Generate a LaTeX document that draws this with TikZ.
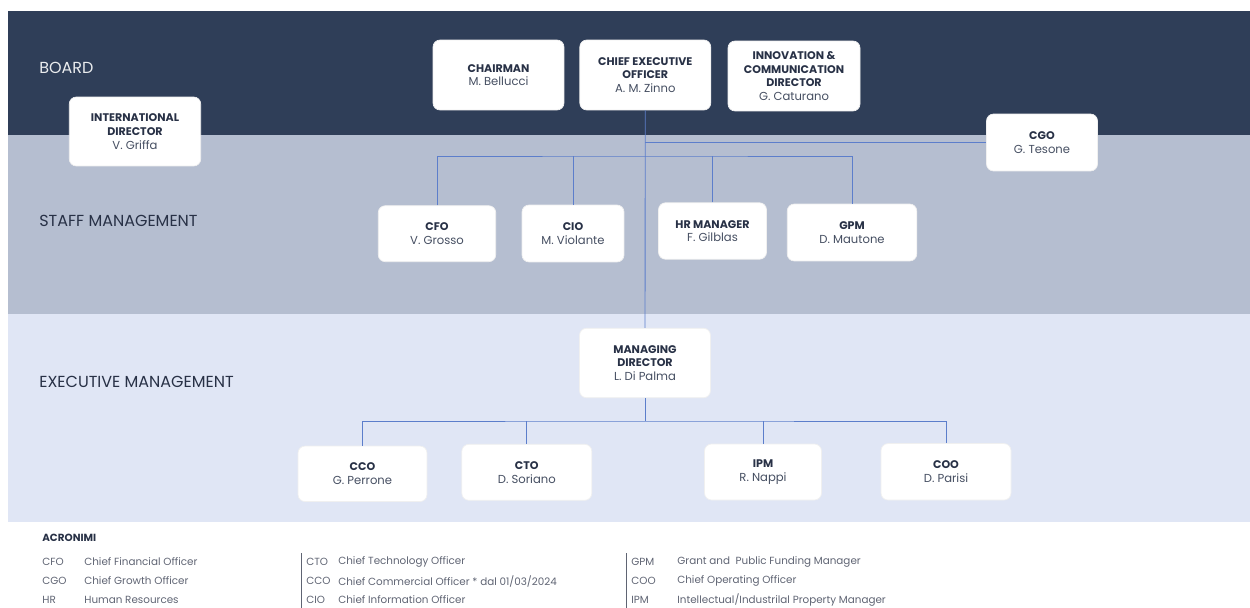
\documentclass[tikz,border=0pt]{standalone}
\usepackage{fontspec}
\setmainfont{Poppins}
\definecolor{boardblue}{RGB}{47,62,88}
\definecolor{staffgray}{RGB}{181,190,208}
\definecolor{execblue}{RGB}{224,230,245}
\definecolor{linkblue}{RGB}{92,126,203}
\definecolor{titlenavy}{RGB}{40,49,70}
\definecolor{namegray}{RGB}{70,79,98}
\definecolor{acrogray}{RGB}{95,100,115}
\begin{document}
\begin{tikzpicture}[x=0.02cm,y=-0.02cm]
\tikzstyle{box}=[rectangle,rounded corners=4pt,fill=white,draw=black!6,align=center,
  font=\fontsize{6.6}{7.8}\selectfont,text=namegray,inner sep=1pt]
\tikzstyle{band}=[anchor=west,inner sep=0pt,font=\fontsize{9.1}{10.9}\selectfont]
\tikzstyle{acro}=[anchor=west,inner sep=0pt,font=\fontsize{5.9}{7}\selectfont,text=acrogray]
\tikzstyle{link}=[draw=linkblue,line width=0.5pt]
\newcommand{\tit}[1]{{\fontsize{6.3}{7.8}\selectfont\bfseries\color{titlenavy}#1}}
\useasboundingbox (0,0) rectangle (1250,608);
\fill[boardblue] (8,11) rectangle (1250,135);
\fill[staffgray] (8,135) rectangle (1250,314);
\fill[execblue] (8,314) rectangle (1250,522);
\node[band,text=white!90!boardblue] (lboard) at (39,68) {BOARD};
\node[band,text=titlenavy] (lstaff) at (39,221) {STAFF MANAGEMENT};
\node[band,text=titlenavy] (lexec) at (39,382) {EXECUTIVE MANAGEMENT};
\node[box,minimum width=2.62cm,minimum height=1.40cm] (chair) at (498.5,75) {\tit{CHAIRMAN}\\M. Bellucci};
\node[box,minimum width=2.62cm,minimum height=1.40cm] (ceo) at (645.3,75) {\tit{CHIEF EXECUTIVE}\\\tit{OFFICER}\\A. M. Zinno};
\node[box,minimum width=2.64cm,minimum height=1.40cm] (icd) at (794,76) {\tit{INNOVATION \&}\\\tit{COMMUNICATION}\\\tit{DIRECTOR}\\G. Caturano};
\node[box,minimum width=2.63cm,minimum height=1.38cm] (intl) at (135,131.5) {\tit{INTERNATIONAL}\\\tit{DIRECTOR}\\V. Griffa};
\node[box,minimum width=2.22cm,minimum height=1.14cm] (cgo) at (1042,142.5) {\tit{CGO}\\G. Tesone};
\node[box,minimum width=2.35cm,minimum height=1.12cm] (cfo) at (437,233.7) {\tit{CFO}\\V. Grosso};
\node[box,minimum width=2.04cm,minimum height=1.14cm] (cio) at (573,233.5) {\tit{CIO}\\M. Violante};
\node[box,minimum width=2.16cm,minimum height=1.13cm] (hrm) at (712.5,231) {\tit{HR MANAGER}\\F. Gilblas};
\node[box,minimum width=2.59cm,minimum height=1.14cm] (gpm) at (852,232.5) {\tit{GPM}\\D. Mautone};
\node[box,minimum width=2.62cm,minimum height=1.39cm] (md) at (645,363) {\tit{MANAGING}\\\tit{DIRECTOR}\\L. Di Palma};
\node[box,minimum width=2.58cm,minimum height=1.11cm] (cco) at (362.5,473.8) {\tit{CCO}\\G. Perrone};
\node[box,minimum width=2.60cm,minimum height=1.12cm] (cto) at (526.8,472.3) {\tit{CTO}\\D. Soriano};
\node[box,minimum width=2.34cm,minimum height=1.12cm] (ipm) at (763,472) {\tit{IPM}\\R. Nappi};
\node[box,minimum width=2.60cm,minimum height=1.13cm] (coo) at (946,471.8) {\tit{COO}\\D. Parisi};
\coordinate (sbar) at (645.3,156);
\coordinate (ebar) at (645,421);
\draw[link] (ceo.south) -- (md.north);
\draw[link] (ceo.south |- cgo.west) -- (cgo.west);
\draw[link] (cfo.north) |- (sbar) -| (gpm.north);
\draw[link] (cio.north) -- (cio.north |- sbar);
\draw[link] (hrm.north) -- (hrm.north |- sbar);
\draw[link] (md.south) -- (ebar);
\draw[link] (cco.north) |- (ebar) -| (coo.north);
\draw[link] (cto.north) -- (cto.north |- ebar);
\draw[link] (ipm.north) -- (ipm.north |- ebar);
\node[acro,text=titlenavy,font=\fontsize{5.9}{7}\selectfont\bfseries] (acr) at (42,537.7) {ACRONIMI};
\node[acro] (a1) at (42,561.7) {CFO};
\node[acro] (d1) at (84,561.7) {Chief Financial Officer};
\node[acro] (a2) at (42,581) {CGO};
\node[acro] (d2) at (84,581) {Chief Growth Officer};
\node[acro] (a3) at (42,600) {HR};
\node[acro] (d3) at (84,600) {Human Resources};
\node[acro] (a4) at (306,561.7) {CTO};
\node[acro] (d4) at (338,561.7) {Chief Technology Officer};
\node[acro] (a5) at (306,581) {CCO};
\node[acro] (d5) at (338,581) {Chief Commercial Officer * dal 01/03/2024};
\node[acro] (a6) at (306,600) {CIO};
\node[acro] (d6) at (338,600) {Chief Information Officer};
\node[acro] (a7) at (631,561.7) {GPM};
\node[acro] (d7) at (677,561.7) {Grant and\ \ Public Funding Manager};
\node[acro] (a8) at (631,581) {COO};
\node[acro] (d8) at (677,581) {Chief Operating Officer};
\node[acro] (a9) at (631,600) {IPM};
\node[acro] (d9) at (677,600) {Intellectual/Industrilal Property Manager};
\draw[acrogray,line width=0.5pt] (301.7,553) -- (301.7,608);
\draw[acrogray,line width=0.5pt] (626.7,553) -- (626.7,608);
\end{tikzpicture}
\end{document}
